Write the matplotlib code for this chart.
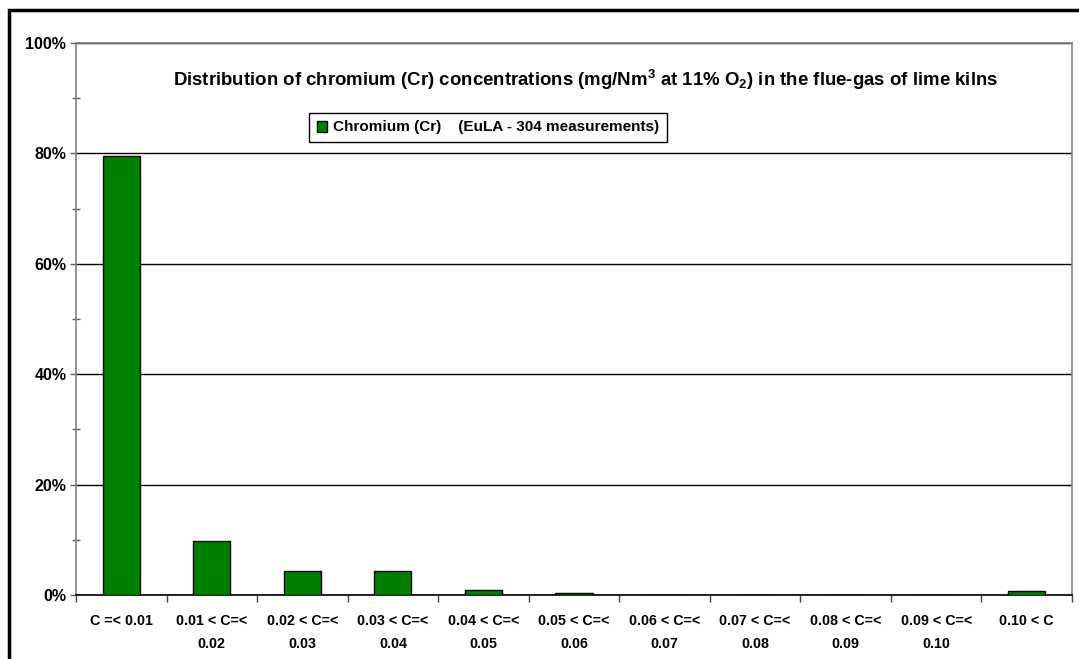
import matplotlib
matplotlib.use("Agg")
import matplotlib.pyplot as plt
from matplotlib.patches import Rectangle
import numpy as np

plt.rcParams['font.family'] = ['Liberation Sans', 'DejaVu Sans']
plt.rcParams['font.weight'] = 'bold'
plt.rcParams['mathtext.fontset'] = 'custom'
plt.rcParams['mathtext.rm'] = 'Liberation Sans:bold'
plt.rcParams['mathtext.default'] = 'rm'

# concentration classes (mg/Nm3 at 11% O2)
categories = ['C =< 0.01', '0.01 < C=<\n0.02', '0.02 < C=<\n0.03', '0.03 < C=<\n0.04',
              '0.04 < C=<\n0.05', '0.05 < C=<\n0.06', '0.06 < C=<\n0.07', '0.07 < C=<\n0.08',
              '0.08 < C=<\n0.09', '0.09 < C=<\n0.10', '0.10 < C']
# share of measurements in each class (%)
share = [79.6, 9.87, 4.28, 4.28, 0.99, 0.33, 0.0, 0.0, 0.0, 0.0, 0.66]

series_label = 'Chromium (Cr)    (EuLA - 304 measurements)'
title = ('Distribution of chromium (Cr) concentrations (mg/Nm$^3$ at 11% O$_2$) '
         'in the flue-gas of lime kilns')

W, H = 1079, 659
fig = plt.figure(figsize=(W / 100, H / 100), dpi=100)
ax = fig.add_axes([76 / W, 1 - 595 / H, (1072 - 76) / W, (595 - 43) / H])

x = np.arange(len(categories))
ax.bar(x, share, width=0.41, color='#008000', edgecolor='black', linewidth=1,
       label=series_label, zorder=3)

ax.set_xlim(-0.5, len(categories) - 0.5)
ax.set_ylim(0, 100)

# y axis
ax.set_yticks([0, 20, 40, 60, 80, 100])
ax.set_yticklabels(['0%', '20%', '40%', '60%', '80%', '100%'], fontsize=11.5, fontweight='bold')
ax.set_yticks([10, 30, 50, 70, 90], minor=True)
ax.tick_params(axis='y', which='major', direction='out', length=4, width=1, color='#606060', pad=3)
ax.tick_params(axis='y', which='minor', direction='inout', length=6, width=1, color='#606060')
ax.yaxis.grid(True, which='major', color='black', linewidth=1, zorder=0)

# x axis: ticks at class boundaries, labels in the middle
ax.set_xticks(np.arange(len(categories) + 1) - 0.5)
ax.set_xticklabels([])
ax.set_xticks(x, minor=True)
ax.set_xticklabels(categories, minor=True, fontsize=10.3, fontweight='bold', linespacing=1.75)
ax.tick_params(axis='x', which='major', direction='out', length=5, width=1, color='#404040')
ax.tick_params(axis='x', which='minor', length=0, pad=14)

for side in ['top', 'right', 'left']:
    ax.spines[side].set_color('#808080')
    ax.spines[side].set_linewidth(1.2)
ax.spines['bottom'].set_color('black')
ax.spines['bottom'].set_linewidth(1.2)
ax.set_axisbelow(True)

fig.text(586 / W, 1 - 80 / H, title, ha='center', va='center', fontsize=13.4, fontweight='bold')

leg = ax.legend(loc='center', bbox_to_anchor=(488 / W, 1 - 127.5 / H),
                bbox_transform=fig.transFigure, fancybox=False, framealpha=1,
                edgecolor='black', handlelength=0.7, handleheight=0.7,
                handletextpad=0.4, borderpad=0.5, prop={'weight': 'bold', 'size': 11})
leg.get_frame().set_linewidth(1)

# outer chart border (runs off the right and bottom of the picture)
fig.patches.append(Rectangle((9 / W, -0.1), 1.2, 1 - 10 / H + 0.1, transform=fig.transFigure,
                             fill=False, edgecolor='black', linewidth=2.5))

fig.savefig('out.png', dpi=100)
